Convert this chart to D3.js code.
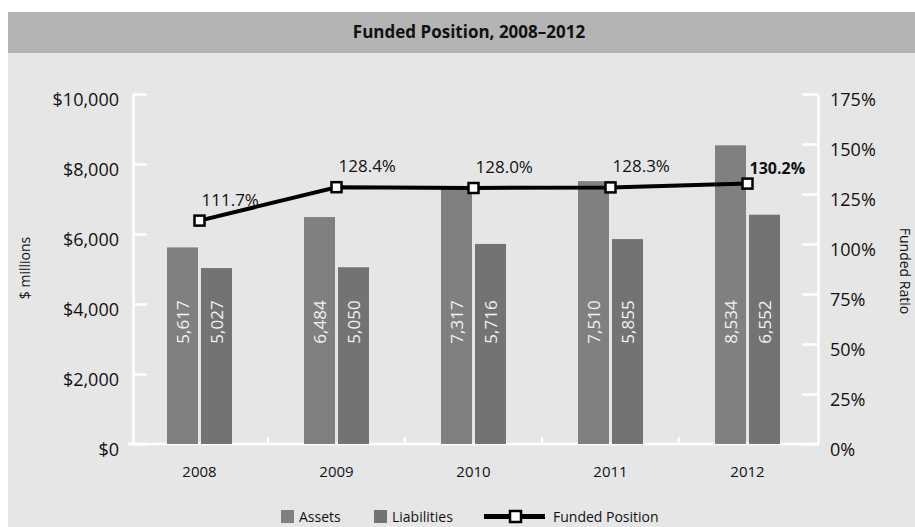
<!DOCTYPE html>
<html>
<head>
<meta charset="utf-8">
<script src="https://cdn.jsdelivr.net/npm/d3@7"></script>
<style>
  html, body { margin: 0; padding: 0; background: #ffffff; }
  svg { display: block; font-family: "Open Sans", "Noto Sans", sans-serif; }
</style>
</head>
<body>
<svg id="chart" width="915" height="527"></svg>
<script>
// Chart data
const years = ["2008", "2009", "2010", "2011", "2012"];
const assets = [5617, 6484, 7317, 7510, 8534];
const liabilities = [5027, 5050, 5716, 5855, 6552];
const fundedRatio = [111.7, 128.4, 128.0, 128.3, 130.2];
const dollarTicks = [0, 2000, 4000, 6000, 8000, 10000];
const ratioTicks = [0, 25, 50, 75, 100, 125, 150, 175];
const seriesNames = ["Assets", "Liabilities", "Funded Position"];

const svg = d3.select("#chart");
const W = 915, H = 527;

const colAssets = "#808080";
const colLiab = "#737373";

// Panel background and title band
svg.append("rect").attr("x", 8).attr("y", 12).attr("width", W).attr("height", H - 12).attr("fill", "#e6e6e6");
svg.append("rect").attr("x", 8).attr("y", 12).attr("width", W).attr("height", 41).attr("fill", "#b4b4b4");
svg.append("text")
  .attr("x", 469).attr("y", 38)
  .attr("text-anchor", "middle")
  .attr("font-weight", "bold")
  .attr("font-size", 17)
  .attr("fill", "#111")
  .text("Funded Position, 2008\u20132012");

// Scales
const x = d3.scaleBand().domain(years).range([131, 816]);
const yL = d3.scaleLinear().domain([0, 10000]).range([444, 94]);
const yR = d3.scaleLinear().domain([0, 175]).range([444, 94]);
const barW = 31, gap = 3;

// Left axis (ticks point inward)
const axL = svg.append("g").attr("transform", "translate(133,0)")
  .call(d3.axisLeft(yL).tickValues(dollarTicks).tickSizeInner(-14).tickSizeOuter(0).tickPadding(14)
    .tickFormat(d => "$" + d3.format(",")(d)));
axL.select(".domain").attr("stroke", "#fff").attr("stroke-width", 2.5);
axL.selectAll(".tick line").attr("stroke", "#fff").attr("stroke-width", 2.5);
axL.selectAll(".tick text").attr("font-size", 18).attr("fill", "#111").attr("y", 6)
  .attr("font-family", "'Open Sans', sans-serif");

// Right axis (ticks point inward)
const axR = svg.append("g").attr("transform", "translate(818,0)")
  .call(d3.axisRight(yR).tickValues(ratioTicks).tickSizeInner(-16).tickSizeOuter(0).tickPadding(12)
    .tickFormat(d => d + "%"));
axR.select(".domain").attr("stroke", "#fff").attr("stroke-width", 2.5);
axR.selectAll(".tick line").attr("stroke", "#fff").attr("stroke-width", 2.5);
axR.selectAll(".tick text").attr("font-size", 18).attr("fill", "#111").attr("y", 6)
  .attr("font-family", "'Open Sans', sans-serif");

// Category axis with short separators between years
const axB = svg.append("g").attr("transform", "translate(0,444)")
  .call(d3.axisBottom(x).tickSize(0).tickPadding(22));
axB.select(".domain").remove();
axB.selectAll(".tick text").attr("font-size", 15).attr("fill", "#111")
  .attr("font-family", "'Open Sans', sans-serif");
svg.append("line").attr("x1", 128).attr("x2", 819).attr("y1", 444).attr("y2", 444)
  .attr("stroke", "#fff").attr("stroke-width", 2.5);
svg.append("g").selectAll("line").data(years.slice(1)).join("line")
  .attr("x1", d => x(d)).attr("x2", d => x(d))
  .attr("y1", 444).attr("y2", 437)
  .attr("stroke", "#fff").attr("stroke-width", 2.5);

// Bars
const groups = svg.append("g").selectAll("g").data(years).join("g")
  .attr("transform", d => `translate(${x(d) + x.bandwidth() / 2},0)`);
groups.append("rect")
  .attr("x", -barW - gap / 2)
  .attr("y", (d, i) => yL(assets[i]))
  .attr("width", barW)
  .attr("height", (d, i) => yL(0) - yL(assets[i]))
  .attr("fill", colAssets);
groups.append("rect")
  .attr("x", gap / 2)
  .attr("y", (d, i) => yL(liabilities[i]))
  .attr("width", barW)
  .attr("height", (d, i) => yL(0) - yL(liabilities[i]))
  .attr("fill", colLiab);

// Rotated value labels inside bars
const fmt = d3.format(",");
groups.append("text")
  .attr("transform", `translate(${-barW / 2 - gap / 2},322) rotate(-90)`)
  .attr("text-anchor", "middle").attr("dominant-baseline", "central")
  .attr("font-size", 17).attr("fill", "#f2f2f2")
  .text((d, i) => fmt(assets[i]));
groups.append("text")
  .attr("transform", `translate(${barW / 2 + gap / 2},322) rotate(-90)`)
  .attr("text-anchor", "middle").attr("dominant-baseline", "central")
  .attr("font-size", 17).attr("fill", "#f2f2f2")
  .text((d, i) => fmt(liabilities[i]));

// Funded ratio line with square markers
const pts = years.map((d, i) => [x(d) + x.bandwidth() / 2, yR(fundedRatio[i])]);
const last = pts.length - 1;
svg.append("path")
  .attr("d", d3.line()(pts))
  .attr("fill", "none").attr("stroke", "#000").attr("stroke-width", 4);
svg.append("g").selectAll("rect").data(pts).join("rect")
  .attr("x", d => d[0] - 5).attr("y", d => d[1] - 5)
  .attr("width", 10).attr("height", 10)
  .attr("fill", "#fff").attr("stroke", "#000").attr("stroke-width", 2.5);
// Ratio labels; the latest year is highlighted in bold
svg.append("g").selectAll("text").data(pts).join("text")
  .attr("x", d => d[0] + 2)
  .attr("y", (d, i) => d[1] - (i === last ? 10 : 15))
  .attr("font-size", (d, i) => i === last ? 16 : 17)
  .attr("font-weight", (d, i) => i === last ? "bold" : "normal")
  .attr("fill", "#111")
  .text((d, i) => fundedRatio[i].toFixed(1) + "%");

// Axis titles
svg.append("text")
  .attr("transform", "translate(30,268) rotate(-90)")
  .attr("text-anchor", "middle").attr("font-size", 14).attr("fill", "#111")
  .text("$ millions");
svg.append("text")
  .attr("transform", "translate(900,271) rotate(90)")
  .attr("text-anchor", "middle").attr("font-size", 14).attr("fill", "#111")
  .text("Funded Ratio");

// Legend
const leg = svg.append("g").attr("font-size", 14).attr("fill", "#111");
leg.append("rect").attr("x", 281).attr("y", 510).attr("width", 13).attr("height", 13).attr("fill", colAssets);
leg.append("text").attr("x", 299).attr("y", 522).text(seriesNames[0]);
leg.append("rect").attr("x", 374).attr("y", 510).attr("width", 13).attr("height", 13).attr("fill", colLiab);
leg.append("text").attr("x", 392).attr("y", 522).text(seriesNames[1]);
leg.append("line").attr("x1", 484).attr("x2", 545).attr("y1", 516.5).attr("y2", 516.5)
  .attr("stroke", "#000").attr("stroke-width", 5);
leg.append("rect").attr("x", 510).attr("y", 511).attr("width", 11).attr("height", 11)
  .attr("fill", "#fff").attr("stroke", "#000").attr("stroke-width", 2.5);
leg.append("text").attr("x", 553).attr("y", 522).text(seriesNames[2]);
</script>
</body>
</html>
